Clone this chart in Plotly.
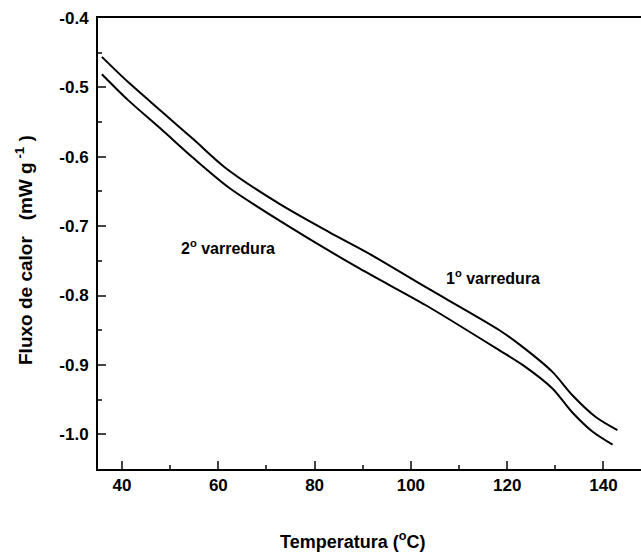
import plotly.graph_objects as go

# 1st scan (upper curve)
t_first = [35.8, 41.2, 48.1, 55.0, 61.3, 72.7, 83.1, 91.4, 103.1, 118.4, 123.2, 129.4, 133.6, 138.4, 142.9]
q_first = [-0.456, -0.492, -0.534, -0.576, -0.615, -0.668, -0.709, -0.740, -0.788, -0.850, -0.874, -0.910, -0.944, -0.975, -0.994]

# 2nd scan (lower curve)
t_second = [35.8, 41.2, 48.1, 55.0, 62.3, 72.7, 89.3, 103.1, 118.4, 123.2, 129.4, 133.6, 137.7, 141.9]
q_second = [-0.481, -0.518, -0.560, -0.603, -0.645, -0.692, -0.761, -0.814, -0.879, -0.900, -0.934, -0.969, -0.996, -1.015]

x_ticks = [40, 60, 80, 100, 120, 140]
y_ticks = [-1.0, -0.9, -0.8, -0.7, -0.6, -0.5, -0.4]
y_ticktext = ["<b>-1.0</b>", "<b>-0.9</b>", "<b>-0.8</b>", "<b>-0.7</b>", "<b>-0.6</b>", "<b>-0.5</b>", "<b>-0.4</b>"]
x_ticktext = ["<b>%d</b>" % v for v in x_ticks]

FONT = "Liberation Sans, Arial, sans-serif"
L, R, T, B = 98, 0, 18, 91
W, H = 641, 560
PW, PH = W - L - R, H - T - B

fig = go.Figure()
fig.add_trace(go.Scatter(x=t_first, y=q_first, mode="lines",
                         line=dict(color="black", width=2, shape="spline", smoothing=0.8), name="1° varredura"))
fig.add_trace(go.Scatter(x=t_second, y=q_second, mode="lines",
                         line=dict(color="black", width=2, shape="spline", smoothing=0.8), name="2° varredura"))

fig.add_annotation(x=62.0, y=-0.7305, text="<b>2<sup>o</sup> varredura</b>", showarrow=False,
                   font=dict(family=FONT, size=16, color="black"))
fig.add_annotation(x=117.0, y=-0.7736, text="<b>1<sup>o</sup> varredura</b>", showarrow=False,
                   font=dict(family=FONT, size=16, color="black"))

# x axis title
fig.add_annotation(xref="paper", yref="paper", x=(352 - L) / PW, y=-(540 - (H - B)) / PH,
                   xanchor="center", yanchor="middle", showarrow=False,
                   text="<b>Temperatura (<sup>o</sup>C)</b>", font=dict(family=FONT, size=18, color="black"))
# y axis title
fig.add_annotation(xref="paper", yref="paper", x=(24 - L) / PW, y=((H - B) - 250) / PH,
                   xanchor="center", yanchor="middle", showarrow=False, textangle=-90,
                   text="<b>Fluxo de calor   (mW g<sup> -1</sup> )</b>", font=dict(family=FONT, size=19, color="black"))

fig.update_layout(
    width=W, height=H,
    margin=dict(l=L, r=R, t=T, b=B),
    paper_bgcolor="white", plot_bgcolor="white",
    showlegend=False,
    font=dict(family=FONT, size=16, color="black"),
)

fig.update_xaxes(
    range=[35, 147.8], tickvals=x_ticks, ticktext=x_ticktext, ticks="inside", ticklen=8, tickwidth=1.5,
    showline=True, linewidth=2, linecolor="black", mirror=True, showgrid=False, zeroline=False,
    tickfont=dict(family=FONT, size=17, color="black"),
    minor=dict(dtick=10, tick0=0, ticks="inside", ticklen=4, tickwidth=1.5, showgrid=False),
)
fig.update_yaxes(
    range=[-1.05, -0.4], tickvals=y_ticks, ticktext=y_ticktext, ticks="inside", ticklen=8, tickwidth=1.5,
    showline=True, linewidth=2, linecolor="black", mirror=False, showgrid=False, zeroline=False,
    tickfont=dict(family=FONT, size=17, color="black"), ticklabelstandoff=4,
    minor=dict(dtick=0.05, tick0=0, ticks="inside", ticklen=4, tickwidth=1.5, showgrid=False),
)

fig.write_html("out.html")
